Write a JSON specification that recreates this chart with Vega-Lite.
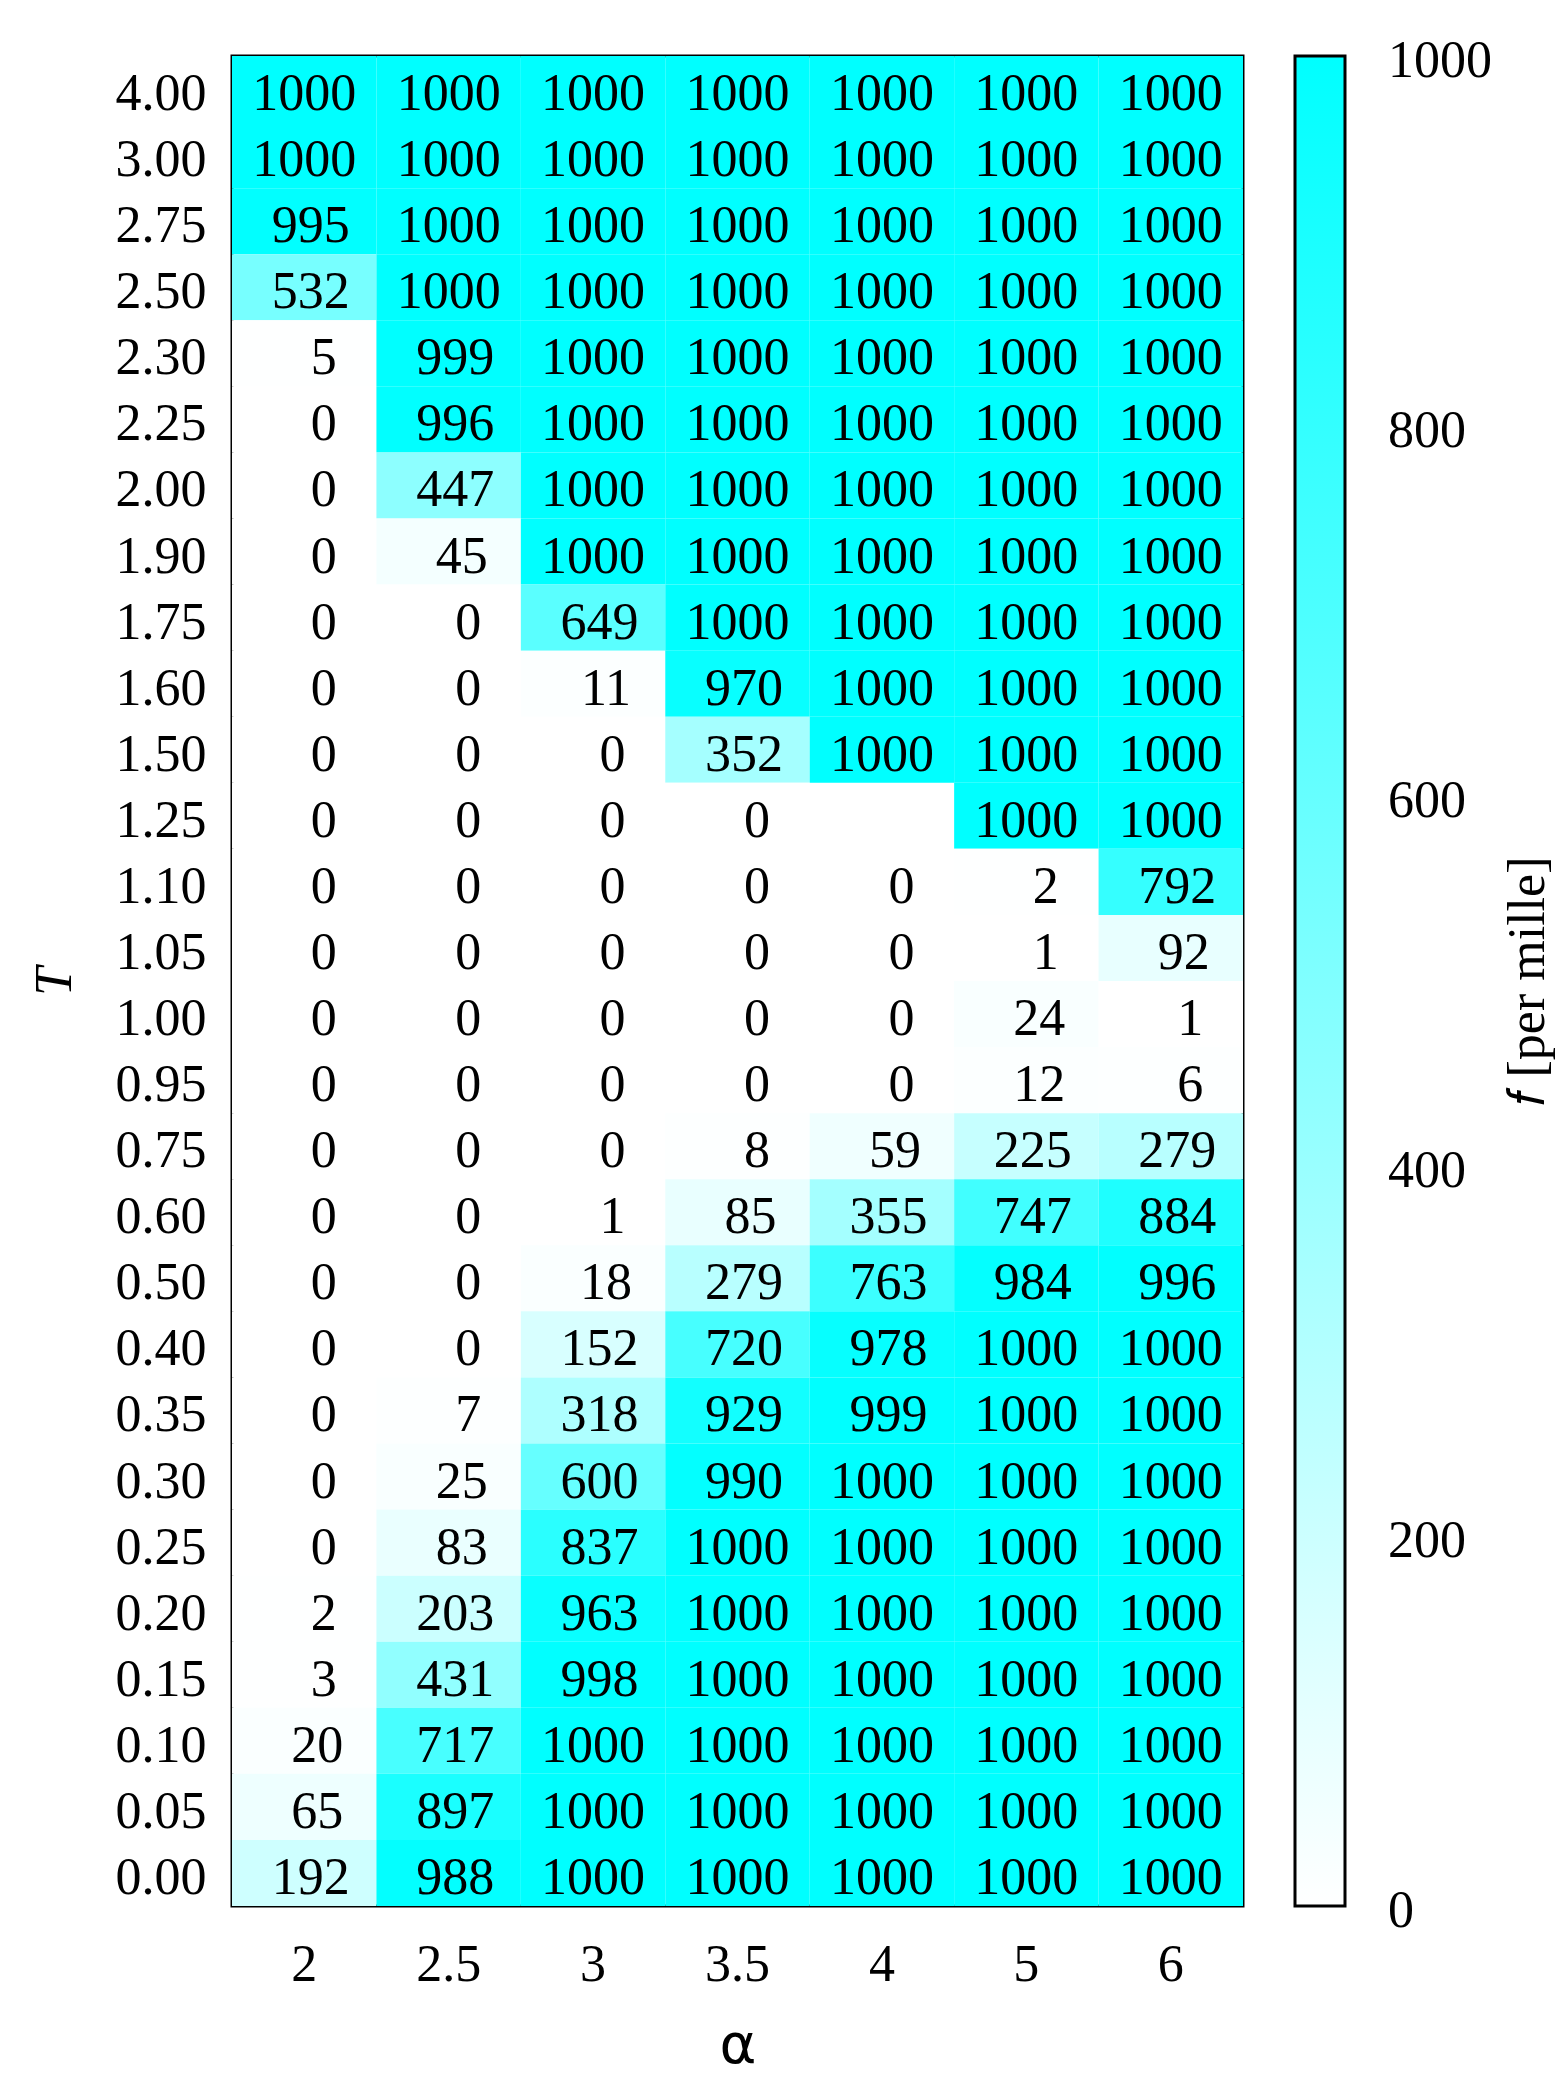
{
  "$schema": "https://vega.github.io/schema/vega-lite/v6.json",
  "width": 1011,
  "height": 1850,
  "autosize": {"type": "none"},
  "padding": {"left": 232, "top": 56, "right": 319, "bottom": 176},
  "background": "white",
  "config": {
    "font": "Liberation Serif",
    "view": {"stroke": "black", "strokeWidth": 3},
    "axis": {"grid": false, "ticks": false, "tickSize": 0, "domain": false, "labelFont": "Liberation Serif", "labelFontSize": 52, "labelColor": "black", "titleFont": "Liberation Serif", "titleFontSize": 52, "titleColor": "black", "titleFontWeight": "normal"},
    "legend": {"labelFont": "Liberation Serif", "labelFontSize": 52, "labelColor": "black"}
  },
  "data": {"values": [
    {"a":2,"T":4.00,"f":1000},{"a":2.5,"T":4.00,"f":1000},{"a":3,"T":4.00,"f":1000},{"a":3.5,"T":4.00,"f":1000},{"a":4,"T":4.00,"f":1000},{"a":5,"T":4.00,"f":1000},{"a":6,"T":4.00,"f":1000},
    {"a":2,"T":3.00,"f":1000},{"a":2.5,"T":3.00,"f":1000},{"a":3,"T":3.00,"f":1000},{"a":3.5,"T":3.00,"f":1000},{"a":4,"T":3.00,"f":1000},{"a":5,"T":3.00,"f":1000},{"a":6,"T":3.00,"f":1000},
    {"a":2,"T":2.75,"f":995},{"a":2.5,"T":2.75,"f":1000},{"a":3,"T":2.75,"f":1000},{"a":3.5,"T":2.75,"f":1000},{"a":4,"T":2.75,"f":1000},{"a":5,"T":2.75,"f":1000},{"a":6,"T":2.75,"f":1000},
    {"a":2,"T":2.50,"f":532},{"a":2.5,"T":2.50,"f":1000},{"a":3,"T":2.50,"f":1000},{"a":3.5,"T":2.50,"f":1000},{"a":4,"T":2.50,"f":1000},{"a":5,"T":2.50,"f":1000},{"a":6,"T":2.50,"f":1000},
    {"a":2,"T":2.30,"f":5},{"a":2.5,"T":2.30,"f":999},{"a":3,"T":2.30,"f":1000},{"a":3.5,"T":2.30,"f":1000},{"a":4,"T":2.30,"f":1000},{"a":5,"T":2.30,"f":1000},{"a":6,"T":2.30,"f":1000},
    {"a":2,"T":2.25,"f":0},{"a":2.5,"T":2.25,"f":996},{"a":3,"T":2.25,"f":1000},{"a":3.5,"T":2.25,"f":1000},{"a":4,"T":2.25,"f":1000},{"a":5,"T":2.25,"f":1000},{"a":6,"T":2.25,"f":1000},
    {"a":2,"T":2.00,"f":0},{"a":2.5,"T":2.00,"f":447},{"a":3,"T":2.00,"f":1000},{"a":3.5,"T":2.00,"f":1000},{"a":4,"T":2.00,"f":1000},{"a":5,"T":2.00,"f":1000},{"a":6,"T":2.00,"f":1000},
    {"a":2,"T":1.90,"f":0},{"a":2.5,"T":1.90,"f":45},{"a":3,"T":1.90,"f":1000},{"a":3.5,"T":1.90,"f":1000},{"a":4,"T":1.90,"f":1000},{"a":5,"T":1.90,"f":1000},{"a":6,"T":1.90,"f":1000},
    {"a":2,"T":1.75,"f":0},{"a":2.5,"T":1.75,"f":0},{"a":3,"T":1.75,"f":649},{"a":3.5,"T":1.75,"f":1000},{"a":4,"T":1.75,"f":1000},{"a":5,"T":1.75,"f":1000},{"a":6,"T":1.75,"f":1000},
    {"a":2,"T":1.60,"f":0},{"a":2.5,"T":1.60,"f":0},{"a":3,"T":1.60,"f":11},{"a":3.5,"T":1.60,"f":970},{"a":4,"T":1.60,"f":1000},{"a":5,"T":1.60,"f":1000},{"a":6,"T":1.60,"f":1000},
    {"a":2,"T":1.50,"f":0},{"a":2.5,"T":1.50,"f":0},{"a":3,"T":1.50,"f":0},{"a":3.5,"T":1.50,"f":352},{"a":4,"T":1.50,"f":1000},{"a":5,"T":1.50,"f":1000},{"a":6,"T":1.50,"f":1000},
    {"a":2,"T":1.25,"f":0},{"a":2.5,"T":1.25,"f":0},{"a":3,"T":1.25,"f":0},{"a":3.5,"T":1.25,"f":0},{"a":5,"T":1.25,"f":1000},{"a":6,"T":1.25,"f":1000},
    {"a":2,"T":1.10,"f":0},{"a":2.5,"T":1.10,"f":0},{"a":3,"T":1.10,"f":0},{"a":3.5,"T":1.10,"f":0},{"a":4,"T":1.10,"f":0},{"a":5,"T":1.10,"f":2},{"a":6,"T":1.10,"f":792},
    {"a":2,"T":1.05,"f":0},{"a":2.5,"T":1.05,"f":0},{"a":3,"T":1.05,"f":0},{"a":3.5,"T":1.05,"f":0},{"a":4,"T":1.05,"f":0},{"a":5,"T":1.05,"f":1},{"a":6,"T":1.05,"f":92},
    {"a":2,"T":1.00,"f":0},{"a":2.5,"T":1.00,"f":0},{"a":3,"T":1.00,"f":0},{"a":3.5,"T":1.00,"f":0},{"a":4,"T":1.00,"f":0},{"a":5,"T":1.00,"f":24},{"a":6,"T":1.00,"f":1},
    {"a":2,"T":0.95,"f":0},{"a":2.5,"T":0.95,"f":0},{"a":3,"T":0.95,"f":0},{"a":3.5,"T":0.95,"f":0},{"a":4,"T":0.95,"f":0},{"a":5,"T":0.95,"f":12},{"a":6,"T":0.95,"f":6},
    {"a":2,"T":0.75,"f":0},{"a":2.5,"T":0.75,"f":0},{"a":3,"T":0.75,"f":0},{"a":3.5,"T":0.75,"f":8},{"a":4,"T":0.75,"f":59},{"a":5,"T":0.75,"f":225},{"a":6,"T":0.75,"f":279},
    {"a":2,"T":0.60,"f":0},{"a":2.5,"T":0.60,"f":0},{"a":3,"T":0.60,"f":1},{"a":3.5,"T":0.60,"f":85},{"a":4,"T":0.60,"f":355},{"a":5,"T":0.60,"f":747},{"a":6,"T":0.60,"f":884},
    {"a":2,"T":0.50,"f":0},{"a":2.5,"T":0.50,"f":0},{"a":3,"T":0.50,"f":18},{"a":3.5,"T":0.50,"f":279},{"a":4,"T":0.50,"f":763},{"a":5,"T":0.50,"f":984},{"a":6,"T":0.50,"f":996},
    {"a":2,"T":0.40,"f":0},{"a":2.5,"T":0.40,"f":0},{"a":3,"T":0.40,"f":152},{"a":3.5,"T":0.40,"f":720},{"a":4,"T":0.40,"f":978},{"a":5,"T":0.40,"f":1000},{"a":6,"T":0.40,"f":1000},
    {"a":2,"T":0.35,"f":0},{"a":2.5,"T":0.35,"f":7},{"a":3,"T":0.35,"f":318},{"a":3.5,"T":0.35,"f":929},{"a":4,"T":0.35,"f":999},{"a":5,"T":0.35,"f":1000},{"a":6,"T":0.35,"f":1000},
    {"a":2,"T":0.30,"f":0},{"a":2.5,"T":0.30,"f":25},{"a":3,"T":0.30,"f":600},{"a":3.5,"T":0.30,"f":990},{"a":4,"T":0.30,"f":1000},{"a":5,"T":0.30,"f":1000},{"a":6,"T":0.30,"f":1000},
    {"a":2,"T":0.25,"f":0},{"a":2.5,"T":0.25,"f":83},{"a":3,"T":0.25,"f":837},{"a":3.5,"T":0.25,"f":1000},{"a":4,"T":0.25,"f":1000},{"a":5,"T":0.25,"f":1000},{"a":6,"T":0.25,"f":1000},
    {"a":2,"T":0.20,"f":2},{"a":2.5,"T":0.20,"f":203},{"a":3,"T":0.20,"f":963},{"a":3.5,"T":0.20,"f":1000},{"a":4,"T":0.20,"f":1000},{"a":5,"T":0.20,"f":1000},{"a":6,"T":0.20,"f":1000},
    {"a":2,"T":0.15,"f":3},{"a":2.5,"T":0.15,"f":431},{"a":3,"T":0.15,"f":998},{"a":3.5,"T":0.15,"f":1000},{"a":4,"T":0.15,"f":1000},{"a":5,"T":0.15,"f":1000},{"a":6,"T":0.15,"f":1000},
    {"a":2,"T":0.10,"f":20},{"a":2.5,"T":0.10,"f":717},{"a":3,"T":0.10,"f":1000},{"a":3.5,"T":0.10,"f":1000},{"a":4,"T":0.10,"f":1000},{"a":5,"T":0.10,"f":1000},{"a":6,"T":0.10,"f":1000},
    {"a":2,"T":0.05,"f":65},{"a":2.5,"T":0.05,"f":897},{"a":3,"T":0.05,"f":1000},{"a":3.5,"T":0.05,"f":1000},{"a":4,"T":0.05,"f":1000},{"a":5,"T":0.05,"f":1000},{"a":6,"T":0.05,"f":1000},
    {"a":2,"T":0.00,"f":192},{"a":2.5,"T":0.00,"f":988},{"a":3,"T":0.00,"f":1000},{"a":3.5,"T":0.00,"f":1000},{"a":4,"T":0.00,"f":1000},{"a":5,"T":0.00,"f":1000},{"a":6,"T":0.00,"f":1000}
  ]},
  "encoding": {
    "x": {"field": "a", "type": "ordinal", "sort": "ascending",
      "axis": {"title": "α", "titleFont": "DejaVu Sans", "titleFontSize": 56, "labelAngle": 0, "labelPadding": 33, "titlePadding": 28}},
    "y": {"field": "T", "type": "ordinal", "sort": "descending",
      "axis": {"title": "T", "titleFontStyle": "italic", "format": ".2f", "labelPadding": 26, "titlePadding": 34, "labelOffset": 5}}
  },
  "layer": [
    {
      "mark": {"type": "rect"},
      "encoding": {
        "color": {"field": "f", "type": "quantitative",
          "scale": {"domain": [0, 1000], "range": ["#ffffff", "#00ffff"], "interpolate": "rgb"},
          "legend": {"orient": "none", "legendX": 1063, "legendY": 0, "title": null, "direction": "vertical", "format": "d",
            "gradientLength": 1850, "gradientThickness": 50, "gradientStrokeColor": "black", "gradientStrokeWidth": 3,
            "values": [0, 200, 400, 600, 800, 1000], "labelOffset": 43, "labelOverlap": false, "padding": 0,
            "encode": {"labels": {"update": {"baseline": {"value": "middle"}, "dy": {"value": 5}}}}}
        }
      }
    },
    {
      "transform": [{"calculate": "'\u2060' + (datum.f < 10 ? '\u00a0\u00a0\u00a0' : datum.f < 100 ? '\u00a0\u00a0' : datum.f < 1000 ? '\u00a0' : '') + toString(datum.f)", "as": "lab"}],
      "mark": {"type": "text", "align": "center", "baseline": "middle", "dy": 5, "fontSize": 52, "font": "Liberation Serif", "color": "black"},
      "encoding": {
        "text": {"field": "lab", "type": "nominal"},
        "y": {"field": "T", "type": "ordinal", "sort": "descending",
          "axis": {"orient": "right", "labels": false, "title": "𝑓 [per mille]", "titleAngle": -90, "titleBaseline": "middle", "titlePadding": 284}}
      }
    }
  ],
  "resolve": {"axis": {"y": "independent"}}
}
